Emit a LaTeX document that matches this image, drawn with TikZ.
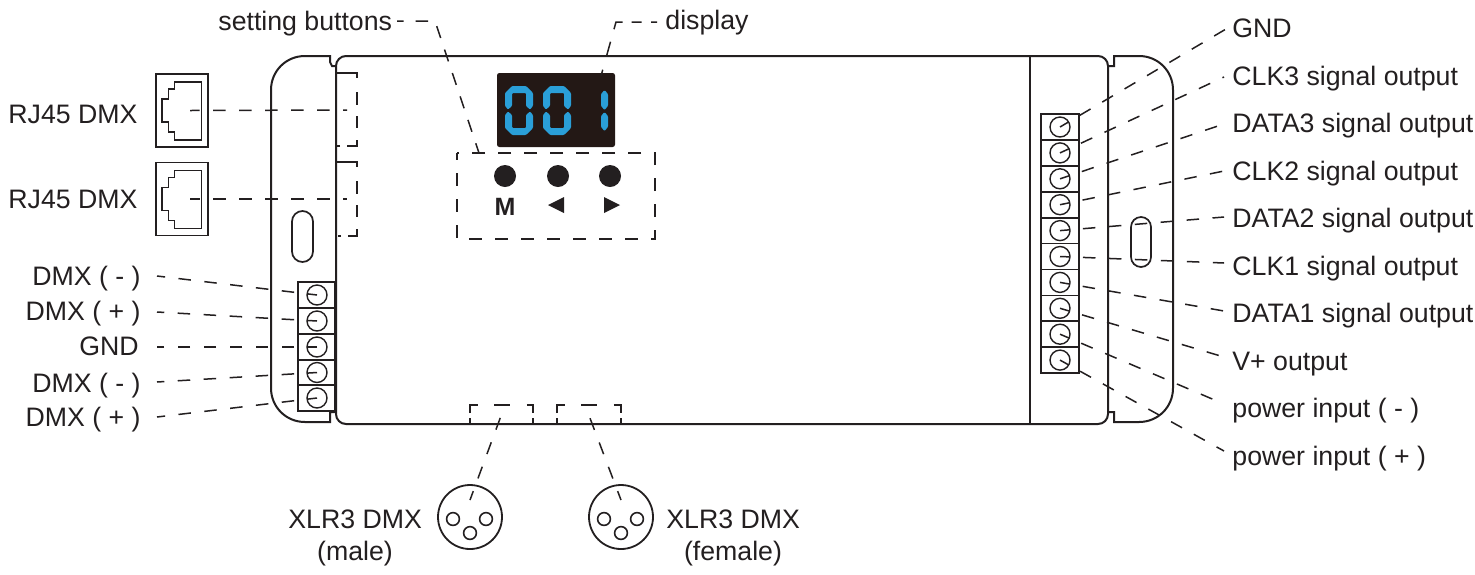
\documentclass[tikz,border=0pt]{standalone}
\usepackage{fontspec}
\setmainfont{Liberation Sans}
\definecolor{ink}{HTML}{231F20}
\definecolor{lcd}{HTML}{2A9FD8}
\definecolor{panel}{HTML}{231815}
\tikzset{
  body/.style={draw=ink,line width=1pt},
  thin part/.style={draw=ink,line width=.85pt},
  leader/.style={draw=ink,line width=.75pt,dash pattern=on 6.25pt off 6.75pt,dash phase=1.5pt},
  zone/.style={draw=ink,line width=.85pt,dash pattern=on 6.5pt off 6.5pt,dash phase=3pt},
  rjzone/.style={draw=ink,line width=.85pt,dash pattern=on 12.5pt off 7pt on 6.5pt off 5.5pt on 6pt off 6pt on 8pt off 3.5pt on 1.5pt off 5pt},
  xlrzone/.style={draw=ink,line width=.85pt,dash pattern=on 8pt off 8.2pt},
  lbl/.style={inner sep=0pt,font=\fontsize{13.35}{16}\selectfont,text=ink},
  screw/.style={circle,draw=ink,line width=.7pt,minimum size=10pt,inner sep=0pt},
  cell/.style={rectangle,draw=ink,line width=.85pt,inner sep=0pt},
  btn/.style={circle,fill=ink,minimum size=11pt,inner sep=0pt},
  pinhole/.style={circle,draw=ink,line width=.8pt,minimum size=6.4pt,inner sep=0pt},
  xlr/.style={circle,draw=ink,line width=.9pt,minimum size=32pt,inner sep=0pt},
  segment/.style={fill=lcd,rounded corners=.5pt,draw=none},
  pics/zero/.style={code={
    \path[segment] (0,7)--(7,0)--(21,0)--(28,7)--(28,20)--(25,23.5)--(21,20)--(21,7)--(7,7)--(7,20)--(3,23.5)--(0,20)--cycle;
    \path[segment] (0,42)--(7,49)--(21,49)--(28,42)--(28,29)--(25,25.5)--(21,29)--(21,42)--(7,42)--(7,29)--(3,25.5)--(0,29)--cycle;
  }},
  pics/jack/.style={code={
    \draw[thin part,line width=.75pt] (174.5,82)--(201.5,82)--(201.5,140)--(174.5,140)--(174.5,132)--(168.5,132)--(168.5,122)--(162,122)--(162,99)--(168.5,99)--(168.5,89)--(174.5,89)--cycle;
  }},
}
\begin{document}
\begin{tikzpicture}[x=.5pt,y=-.5pt]
\useasboundingbox (0,0) rectangle (1475,574);
\fill[white] (0,0) rectangle (1475,574);

% terminal blocks and screws
\foreach \i/\y in {1/295,2/321,3/347,4/372.5,5/398}{
  \node[cell,minimum width=18.5pt,minimum height=12.9pt] (lc\i) at (316.5,\y) {};
  \node[screw] (ls\i) at (317,\y) {};
}
\foreach \i in {1,...,10}{
  \pgfmathsetmacro{\yy}{127+25.9*(\i-1)}
  \node[cell,minimum width=19pt,minimum height=12.95pt] (rc\i) at (1060,\yy) {};
  \node[screw] (rs\i) at (1060,\yy) {};
}

% labels
\node[lbl,anchor=base west] (rj1) at (8,123) {RJ45 DMX};
\node[lbl,anchor=base west] (rj2) at (8,208) {RJ45 DMX};
\node[lbl,anchor=base east] (l1) at (141,285) {DMX ( - )};
\node[lbl,anchor=base east] (l2) at (141,320) {DMX ( + )};
\node[lbl,anchor=base east] (l3) at (139,355) {GND};
\node[lbl,anchor=base east] (l4) at (141,392) {DMX ( - )};
\node[lbl,anchor=base east] (l5) at (141,426) {DMX ( + )};
\node[lbl,anchor=base west] (setb) at (218,30) {setting buttons};
\node[lbl,anchor=base west] (disp) at (665,29) {display};
\node[lbl,anchor=base west] (r1) at (1232,37) {GND};
\node[lbl,anchor=base west] (r2) at (1232,85) {CLK3 signal output};
\node[lbl,anchor=base west] (r3) at (1232,132) {DATA3 signal output};
\node[lbl,anchor=base west] (r4) at (1232,180) {CLK2 signal output};
\node[lbl,anchor=base west] (r5) at (1232,227) {DATA2 signal output};
\node[lbl,anchor=base west] (r6) at (1232,275) {CLK1 signal output};
\node[lbl,anchor=base west] (r7) at (1232,322) {DATA1 signal output};
\node[lbl,anchor=base west] (r8) at (1232,370) {V+ output};
\node[lbl,anchor=base west] (r9) at (1232,417) {power input ( - )};
\node[lbl,anchor=base west] (r10) at (1232,465) {power input ( + )};
\node[lbl,anchor=base west] (xm) at (288,528) {XLR3 DMX};
\node[lbl,anchor=base] (xm2) at (355,560) {(male)};
\node[lbl,anchor=base west] (xf) at (666,528) {XLR3 DMX};
\node[lbl,anchor=base] (xf2) at (733,560) {(female)};

% housing
\draw[body] (336,66)--(332,66)--(330,62)--(330,56)--(305,56) .. controls (286,56) and (271,71) .. (271,90)--(271,388) .. controls (271,407) and (286,422) .. (305,422)--(330,422)--(330,412)--(336,412);
\draw[body] (1108,66)--(1114,66)--(1114,56)--(1139,56) .. controls (1158,56) and (1173,71) .. (1173,90)--(1173,388) .. controls (1173,407) and (1158,422) .. (1139,422)--(1114,422)--(1114,412)--(1108,412);
\draw[body,rounded corners=5pt] (336,240)--(336,56)--(1108,56)--(1108,424)--(336,424)--cycle;
\draw[body] (1030,56)--(1030,424);
\draw[thin part] (292,221.5) .. controls (292,215.7) and (296.7,211) .. (302.5,211) .. controls (308.3,211) and (313,215.7) .. (313,221.5)--(313,251.5) .. controls (313,257.3) and (308.3,262) .. (302.5,262) .. controls (296.7,262) and (292,257.3) .. (292,251.5)--cycle;
\draw[thin part] (1131,227) .. controls (1131,221.5) and (1135.5,217) .. (1141,217) .. controls (1146.5,217) and (1151,221.5) .. (1151,227)--(1151,257) .. controls (1151,262.5) and (1146.5,267) .. (1141,267) .. controls (1135.5,267) and (1131,262.5) .. (1131,257)--cycle;

% RJ45 sockets
\node[cell,line width=.9pt,minimum width=26pt,minimum height=36.5pt] (j1) at (182,110.5) {};
\node[cell,line width=.9pt,minimum width=26pt,minimum height=36.5pt] (j2) at (182,199) {};
\pic at (0,0) {jack};
\pic at (0,88.5) {jack};

% display
\node[rectangle,fill=panel,rounded corners=1.2pt,minimum width=59pt,minimum height=37pt,inner sep=0pt] (panel) at (556,110) {};
\pic at (505,86) {zero};
\pic at (543,86) {zero};
\path[segment] (604.5,90)--(608,94)--(608,106)--(604.5,110)--(601,106)--(601,94)--cycle;
\path[segment] (604.5,112)--(608,116)--(608,127)--(604.5,131)--(601,127)--(601,116)--cycle;

% buttons
\node[btn] (b1) at (505,176) {};
\node[btn] (b2) at (558,176) {};
\node[btn] (b3) at (610,176) {};
\node[inner sep=0pt,font=\fontsize{12.5}{14}\bfseries\selectfont,text=ink,anchor=base] (mlab) at (505,215) {M};
\fill[ink] (548,205)--(564,197)--(564,213)--cycle;
\fill[ink] (620,205)--(604,197)--(604,213)--cycle;

% dashed zones
\draw[rjzone] (337,73)--(357,73)--(357,146)--(337,146);
\draw[rjzone] (337,162)--(357,162)--(357,236)--(337,236);
\draw[zone] (457,153) rectangle (655,239);
\draw[xlrzone] (470,413)--(470,405)--(533,405)--(533,413);
\draw[xlrzone] (557,413)--(557,405)--(621,405)--(621,413);
\draw[thin part] (470,418)--(470,424) (533,418)--(533,424) (557,418)--(557,424) (621,418)--(621,424);
\coordinate (zrj1) at (347,110);
\coordinate (zrj2) at (347,199);
\coordinate (pcorner) at (601,76);

% XLR sockets
\node[xlr] (xl) at (470,517) {};
\node[xlr] (xr) at (621,517) {};
\node[pinhole] at (453,519) {};
\node[pinhole] at (486,519) {};
\node[pinhole] at (470,533) {};
\node[pinhole] at (604,519) {};
\node[pinhole] at (637,519) {};
\node[pinhole] at (621,533) {};

% leaders
\draw[leader] (j1.center)++(8,0)--(zrj1);
\draw[leader] (j2.center)++(8,0)--(zrj2);
\coordinate (fl1) at (157,276);
\coordinate (fl2) at (157,312);
\coordinate (fl3) at (157,347);
\coordinate (fl4) at (157,382);
\coordinate (fl5) at (157,417);
\foreach \i in {1,...,5}{\draw[leader] (ls\i.center)--(fl\i);}
\coordinate (fr1) at (1226,29);
\coordinate (fr2) at (1224,77);
\coordinate (fr3) at (1224,124);
\coordinate (fr4) at (1224,171);
\coordinate (fr5) at (1224,217);
\coordinate (fr6) at (1224,263);
\coordinate (fr7) at (1224,311);
\coordinate (fr8) at (1224,357);
\coordinate (fr9) at (1224,404);
\coordinate (fr10) at (1224,451);
\foreach \i in {1,...,10}{\draw[leader] (rs\i.center)--(fr\i);}
\coordinate (s0) at (397,21);
\coordinate (s1) at (435,21);
\coordinate (s2) at (479,153);
\draw[leader,dash pattern=on 6.25pt off 6.1pt,dash phase=3pt] (s0)--(s1)--(s2);
\coordinate (d0) at (657,22);
\coordinate (d1) at (616,22);
\draw[leader,dash pattern=on 3pt off 4.75pt on 5pt off 4.5pt on 7pt off 6.5pt on 7pt off 7.5pt on 3pt off 5pt,dash phase=0pt] (d0)--(d1)--(pcorner);
\coordinate (xz1) at (505,405);
\coordinate (xz2) at (585,405);
\coordinate (xe1) at (470,500);
\coordinate (xe2) at (621,500);
\draw[leader] (xe1)--(xz1);
\draw[leader] (xe2)--(xz2);
\end{tikzpicture}
\end{document}
